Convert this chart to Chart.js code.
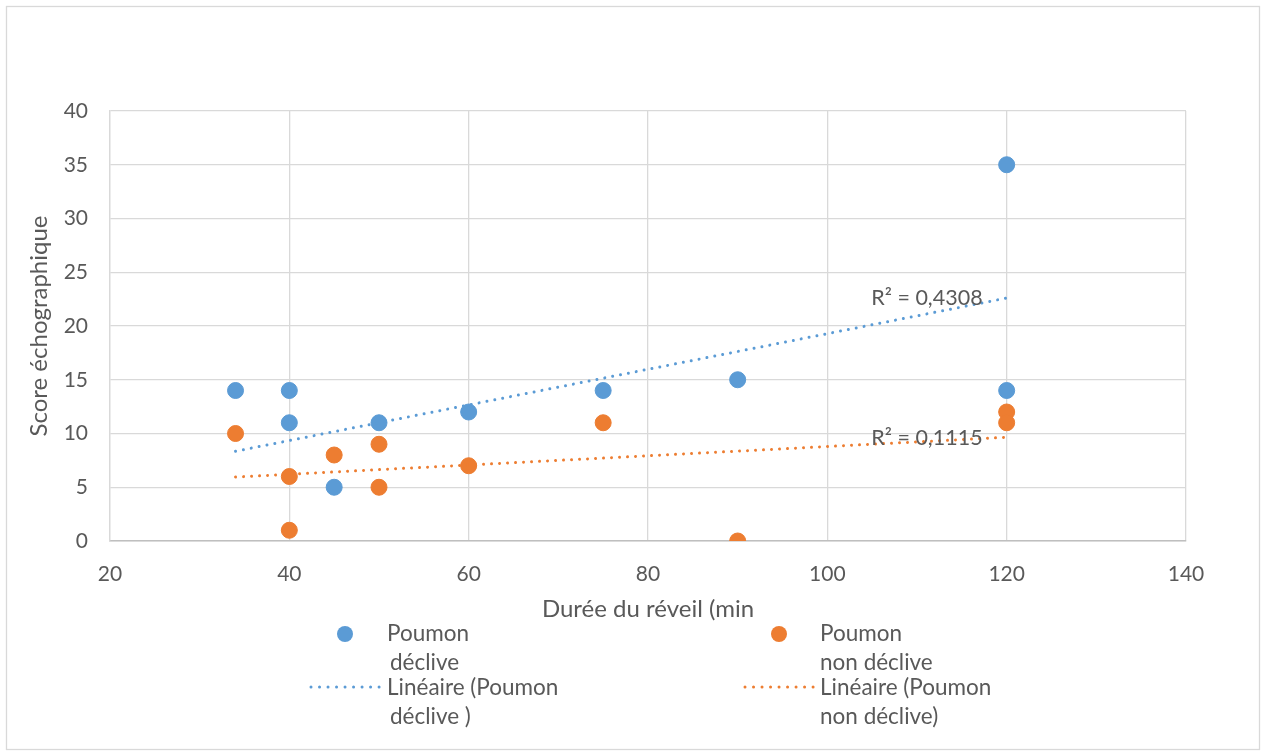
<!DOCTYPE html>
<html>
<head>
<meta charset="utf-8">
<script src="https://cdn.jsdelivr.net/npm/chart.js@4/dist/chart.umd.min.js"></script>
<style>
  html, body { margin: 0; padding: 0; background: #fff; }
</style>
</head>
<body>
<canvas id="chart" width="1266" height="756"></canvas>
<script>
// Données
const declivX = [34, 40, 40, 45, 50, 60, 75, 90, 120, 120];
const declivY = [14, 14, 11, 5, 11, 12, 14, 15, 35, 14];
const nonDeclivX = [34, 40, 40, 45, 50, 50, 60, 75, 90, 120, 120];
const nonDeclivY = [10, 6, 1, 8, 9, 5, 7, 11, 0, 12, 11];
const trendX = [34, 120];
const trendDecliv = [8.35, 22.6];
const trendNonDecliv = [5.95, 9.65];
const r2Labels = ['R² = 0,4308', 'R² = 0,1115'];
const legendNames = [
    ['Poumon', 'déclive'],
    ['Poumon', 'non déclive'],
    ['Linéaire (Poumon', 'déclive )'],
    ['Linéaire (Poumon', 'non déclive)']
];

const BLUE = '#5b9bd5';
const ORANGE = '#ed7d31';
const TEXT = '#595959';
const FONT = 'Lato';

const toPoints = (xs, ys) => xs.map((x, i) => ({ x: x, y: ys[i] }));

// cadre + fond blanc
const framePlugin = {
    id: 'frame',
    beforeDraw(chart) {
        const ctx = chart.ctx;
        ctx.save();
        ctx.fillStyle = '#fff';
        ctx.fillRect(0, 0, chart.width, chart.height);
        ctx.strokeStyle = '#d9d9d9';
        ctx.lineWidth = 1.3;
        ctx.strokeRect(6.5, 6.5, 1253, 743);
        ctx.restore();
    }
};

// étiquettes R²
const r2Plugin = {
    id: 'r2',
    afterDatasetsDraw(chart) {
        const ctx = chart.ctx;
        const xs = chart.scales.x, ys = chart.scales.y;
        ctx.save();
        ctx.font = '21.5px ' + FONT;
        ctx.fillStyle = TEXT;
        ctx.textAlign = 'left';
        ctx.textBaseline = 'middle';
        ctx.fillText(r2Labels[0], xs.getPixelForValue(104.9), ys.getPixelForValue(22.6));
        ctx.fillText(r2Labels[1], xs.getPixelForValue(104.9), ys.getPixelForValue(9.6));
        ctx.restore();
    }
};

// légende sur deux colonnes, texte sur deux lignes
const legendPlugin = {
    id: 'customLegend',
    afterDraw(chart) {
        const ctx = chart.ctx;
        ctx.save();
        ctx.font = '22.5px ' + FONT;
        ctx.fillStyle = TEXT;
        ctx.textBaseline = 'middle';
        ctx.textAlign = 'left';

        const cols = [
            { x: 345, color: BLUE, tx: 387, l0: 311, l1: 379 },
            { x: 779, color: ORANGE, tx: 820, l0: 745, l1: 813 }
        ];
        cols.forEach((c, i) => {
            // marqueur
            ctx.fillStyle = c.color;
            ctx.beginPath();
            ctx.arc(c.x, 634, 8, 0, Math.PI * 2);
            ctx.fill();
            ctx.fillStyle = TEXT;
            ctx.fillText(legendNames[i][0], c.tx, 634);
            ctx.fillText(legendNames[i][1], c.tx + (i === 0 ? 3 : 0), 663);

            // ligne de tendance
            ctx.strokeStyle = c.color;
            ctx.lineWidth = 3;
            ctx.lineCap = 'round';
            ctx.setLineDash([0.01, 8.5]);
            ctx.beginPath();
            ctx.moveTo(c.l0, 687);
            ctx.lineTo(c.l1 + 1, 687);
            ctx.stroke();
            ctx.setLineDash([]);
            ctx.fillText(legendNames[i + 2][0], c.tx, 688);
            ctx.fillText(legendNames[i + 2][1], c.tx + (i === 0 ? 3 : 0), 717);
        });
        ctx.restore();
    }
};

new Chart(document.getElementById('chart'), {
    type: 'scatter',
    data: {
        datasets: [
            {
                label: 'Linéaire (Poumon non déclive)',
                type: 'line',
                data: toPoints(trendX, trendNonDecliv),
                borderColor: ORANGE,
                borderWidth: 3,
                borderDash: [0.01, 8],
                borderCapStyle: 'round',
                pointRadius: 0,
                fill: false,
                order: 0
            },
            {
                label: 'Linéaire (Poumon déclive )',
                type: 'line',
                data: toPoints(trendX, trendDecliv),
                borderColor: BLUE,
                borderWidth: 3,
                borderDash: [0.01, 8],
                borderCapStyle: 'round',
                pointRadius: 0,
                fill: false,
                order: 1
            },
            {
                label: 'Poumon non déclive',
                data: toPoints(nonDeclivX, nonDeclivY),
                backgroundColor: ORANGE,
                borderColor: ORANGE,
                pointRadius: 8,
                order: 2
            },
            {
                label: 'Poumon déclive',
                data: toPoints(declivX, declivY),
                backgroundColor: BLUE,
                borderColor: BLUE,
                pointRadius: 8,
                order: 3
            }
        ]
    },
    options: {
        responsive: false,
        animation: false,
        devicePixelRatio: 1,
        layout: { padding: { top: 111, right: 80, bottom: 130, left: 0 } },
        plugins: {
            legend: { display: false },
            tooltip: { enabled: false }
        },
        scales: {
            x: {
                type: 'linear',
                min: 20,
                max: 140,
                afterFit: s => { s.height = 85; },
                ticks: { stepSize: 20, color: TEXT, font: { family: FONT, size: 21 }, padding: 21 },
                grid: { color: '#d9d9d9', lineWidth: 1.3, drawTicks: false },
                border: { color: '#bfbfbf', width: 1.5 },
                title: {
                    display: true,
                    text: 'Durée du réveil (min',
                    color: TEXT,
                    font: { family: FONT, size: 24 },
                    padding: { top: 0, bottom: 2 }
                }
            },
            y: {
                min: 0,
                max: 40,
                afterFit: s => { s.width = 110; },
                ticks: { stepSize: 5, color: TEXT, font: { family: FONT, size: 21 }, padding: 22 },
                grid: { color: '#d9d9d9', lineWidth: 1.3, drawTicks: false },
                border: { color: '#d9d9d9', width: 1.3 },
                title: {
                    display: true,
                    text: 'Score échographique',
                    color: TEXT,
                    font: { family: FONT, size: 24 },
                    padding: { top: 25, bottom: 0 }
                }
            }
        }
    },
    plugins: [framePlugin, r2Plugin, legendPlugin]
});
</script>
</body>
</html>
